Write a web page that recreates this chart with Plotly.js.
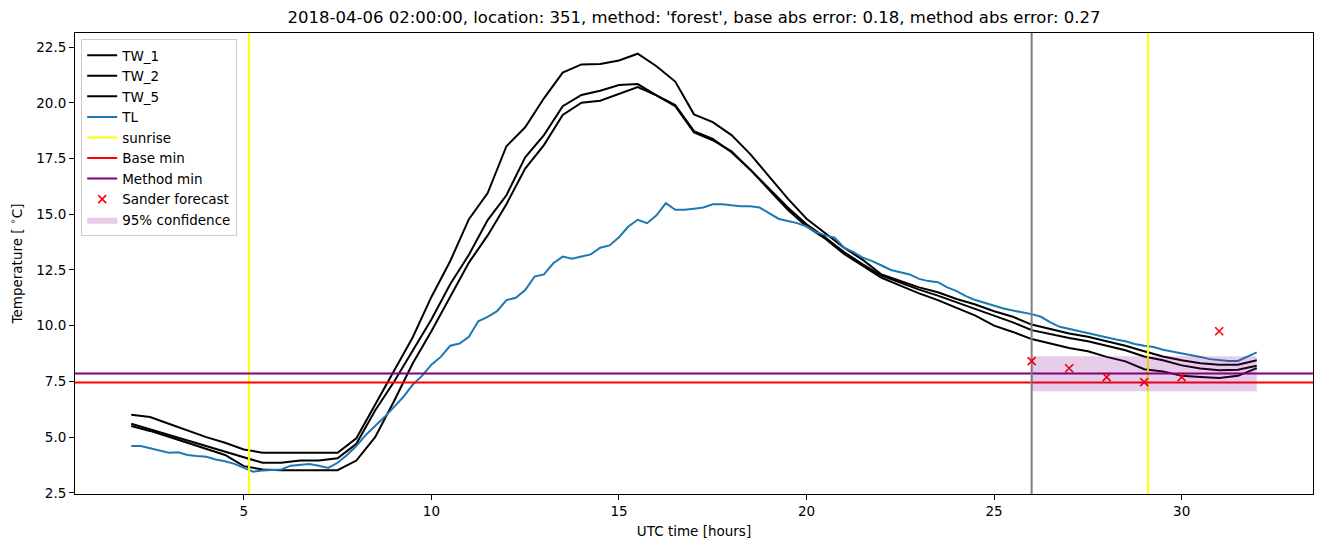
<!DOCTYPE html>
<html>
<head>
<meta charset="utf-8">
<script src="https://cdn.plot.ly/plotly-3.0.1.min.js"></script>
<style>html,body{margin:0;padding:0;background:#fff;}#chart{width:1324px;height:547px;}</style>
</head>
<body>
<div id="chart"></div>
<script>
// ---- data ----
const hoursTW = [2,2.5,3,3.5,4,4.5,5,5.5,6,6.5,7,7.5,8,8.5,9,9.5,10,10.5,11,11.5,12,12.5,13,13.5,14,14.5,15,15.5,16,16.5,17,17.5,18,18.5,19,19.5,20,20.5,21,21.5,22,22.5,23,23.5,24,24.5,25,25.5,26,26.5,27,27.5,28,28.5,29,29.5,30,30.5,31,31.5,32];
const tw1 = [6.0,5.9,5.6,5.3,5.0,4.75,4.45,4.3,4.3,4.3,4.3,4.3,4.95,6.45,7.93,9.47,11.29,12.89,14.78,15.95,18.05,18.9,20.2,21.35,21.72,21.74,21.9,22.2,21.64,20.95,19.48,19.13,18.55,17.7,16.7,15.7,14.8,14.15,13.5,12.95,12.3,12.01,11.72,11.5,11.2,10.95,10.65,10.4,10.05,9.85,9.65,9.5,9.3,9.1,8.85,8.62,8.45,8.32,8.25,8.25,8.45];
const tw2 = [5.6,5.35,5.1,4.85,4.6,4.35,4.1,3.85,3.85,3.95,3.95,4.05,4.7,6.2,7.47,8.85,10.28,11.86,13.18,14.74,15.85,17.55,18.55,19.85,20.35,20.54,20.8,20.84,20.33,19.9,18.73,18.38,17.78,17.0,16.15,15.3,14.55,13.95,13.3,12.75,12.25,11.92,11.62,11.35,11.05,10.78,10.45,10.15,9.8,9.62,9.45,9.3,9.1,8.9,8.62,8.45,8.22,8.08,8.0,8.02,8.2];
const tw5 = [5.5,5.28,5.02,4.75,4.5,4.2,3.7,3.55,3.52,3.52,3.52,3.52,3.95,5.0,6.6,8.3,9.75,11.28,12.83,14.05,15.45,17.05,18.1,19.45,20.0,20.09,20.4,20.7,20.33,19.85,18.67,18.32,17.82,17.0,16.1,15.2,14.45,13.9,13.22,12.7,12.15,11.8,11.45,11.15,10.8,10.45,10.0,9.72,9.4,9.2,9.0,8.85,8.6,8.4,8.05,7.95,7.75,7.7,7.65,7.75,8.1];
const hoursTL = [2,2.25,2.5,2.75,3,3.25,3.5,3.75,4,4.25,4.5,4.75,5,5.25,5.5,5.75,6,6.25,6.5,6.75,7,7.25,7.5,7.75,8,8.25,8.5,8.75,9,9.25,9.5,9.75,10,10.25,10.5,10.75,11,11.25,11.5,11.75,12,12.25,12.5,12.75,13,13.25,13.5,13.75,14,14.25,14.5,14.75,15,15.25,15.5,15.75,16,16.25,16.5,16.75,17,17.25,17.5,17.75,18,18.25,18.5,18.75,19,19.25,19.5,19.75,20,20.25,20.5,20.75,21,21.25,21.5,21.75,22,22.25,22.5,22.75,23,23.25,23.5,23.75,24,24.25,24.5,24.75,25,25.25,25.5,25.75,26,26.25,26.5,26.75,27,27.25,27.5,27.75,28,28.25,28.5,28.75,29,29.25,29.5,29.75,30,30.25,30.5,30.75,31,31.25,31.5,31.75,32];
const tl = [4.6,4.6,4.5,4.4,4.3,4.32,4.2,4.15,4.12,4.0,3.92,3.8,3.62,3.45,3.5,3.52,3.55,3.72,3.77,3.8,3.72,3.62,3.85,4.2,4.6,5.1,5.5,5.9,6.35,6.8,7.35,7.75,8.25,8.6,9.1,9.2,9.5,10.2,10.4,10.65,11.15,11.25,11.6,12.2,12.3,12.8,13.1,13.0,13.1,13.2,13.5,13.6,13.97,14.45,14.75,14.6,14.95,15.5,15.2,15.2,15.25,15.3,15.45,15.45,15.4,15.36,15.36,15.3,15.05,14.8,14.7,14.6,14.45,14.2,14.05,13.95,13.5,13.3,13.05,12.9,12.7,12.5,12.4,12.3,12.1,12.0,11.95,11.72,11.55,11.33,11.15,11.02,10.88,10.77,10.68,10.6,10.52,10.4,10.15,9.95,9.85,9.78,9.68,9.58,9.48,9.38,9.3,9.18,9.1,9.04,8.92,8.84,8.76,8.7,8.6,8.5,8.45,8.42,8.42,8.6,8.8];
const sunriseHours = [5.14, 29.1];
const forecastStartHour = 26.0;
const baseMin = 7.45;
const methodMin = 7.86;
const sanderHours = [26, 27, 28, 29, 30, 31];
const sanderValues = [8.41, 8.09, 7.69, 7.47, 7.69, 9.75];
const confHours = [26, 32];
const confLow = 7.06;
const confHigh = 8.63;
const xTicks = [5, 10, 15, 20, 25, 30];
const yTicks = [2.5, 5.0, 7.5, 10.0, 12.5, 15.0, 17.5, 20.0, 22.5];
const titleText = "2018-04-06 02:00:00, location: 351, method: 'forest', base abs error: 0.18, method abs error: 0.27";

// ---- layout constants ----
const xRange = [0.5, 33.5];
const yRange = [2.45, 23.13];
const LW = 2;

const traces = [];
const black = '#000000';
[['TW_1', tw1], ['TW_2', tw2], ['TW_5', tw5]].forEach(([n, v]) => {
  traces.push({x: hoursTW, y: v, name: n, type: 'scatter', mode: 'lines', line: {color: black, width: LW}});
});
traces.push({x: hoursTL, y: tl, name: 'TL', type: 'scatter', mode: 'lines', line: {color: '#1f77b4', width: LW}});
sunriseHours.forEach((h, i) => {
  traces.push({x: [h, h], y: yRange, name: 'sunrise', legendgroup: 'sunrise', showlegend: i === 0,
    type: 'scatter', mode: 'lines', line: {color: '#ffff00', width: LW}, hoverinfo: 'skip'});
});
traces.push({x: xRange, y: [baseMin, baseMin], name: 'Base min', type: 'scatter', mode: 'lines', line: {color: '#ff0000', width: LW}});
traces.push({x: xRange, y: [methodMin, methodMin], name: 'Method min', type: 'scatter', mode: 'lines', line: {color: '#800080', width: LW}});
traces.push({x: [forecastStartHour, forecastStartHour], y: yRange, showlegend: false, type: 'scatter', mode: 'lines', line: {color: '#808080', width: LW}});
traces.push({x: sanderHours, y: sanderValues, name: 'Sander forecast', type: 'scatter', mode: 'markers',
  marker: {symbol: 'x-thin', size: 8, color: '#ff0000', line: {color: '#ff0000', width: 1.6}}});
traces.push({x: [confHours[0], confHours[1], confHours[1], confHours[0], confHours[0]],
  y: [confLow, confLow, confHigh, confHigh, confLow], name: '95% confidence', type: 'scatter', mode: 'lines',
  fill: 'toself', fillcolor: 'rgba(128,0,128,0.2)', line: {width: 0, color: 'rgba(128,0,128,0)'}});

const font = {family: 'DejaVu Sans, sans-serif', size: 13.5, color: '#000'};
const layout = {
  width: 1324, height: 547,
  margin: {l: 75, r: 11, t: 33, b: 53},
  paper_bgcolor: '#fff', plot_bgcolor: '#fff',
  font: font,
  showlegend: true,
  title: {text: titleText, font: {family: 'DejaVu Sans, sans-serif', size: 16.5, color: '#000'},
    x: 0.5, xref: 'paper', xanchor: 'center', y: 1 - 17/547, yref: 'container', yanchor: 'middle'},
  xaxis: {range: xRange, tickvals: xTicks, ticktext: xTicks.map(String), showgrid: false, zeroline: false,
    showline: true, mirror: true, linecolor: '#000', linewidth: 1, ticks: 'outside', ticklen: 5, tickcolor: '#000',
    title: {text: 'UTC time [hours]', font: font, standoff: 8}},
  yaxis: {range: yRange, tickvals: yTicks, ticktext: yTicks.map(v => v.toFixed(1)), showgrid: false, zeroline: false,
    showline: true, mirror: true, linecolor: '#000', linewidth: 1, ticks: 'outside', ticklen: 5, tickcolor: '#000',
    title: {text: 'Temperature [ <sup>∘</sup>C]', font: font, standoff: 10}},
  legend: {x: 0.005, y: 0.987, xanchor: 'left', yanchor: 'top', bgcolor: 'rgba(255,255,255,0.8)',
    bordercolor: '#cccccc', borderwidth: 1, font: font, tracegroupgap: 0}
};
Plotly.newPlot('chart', traces, layout, {staticPlot: true, displayModeBar: false});
</script>
</body>
</html>
